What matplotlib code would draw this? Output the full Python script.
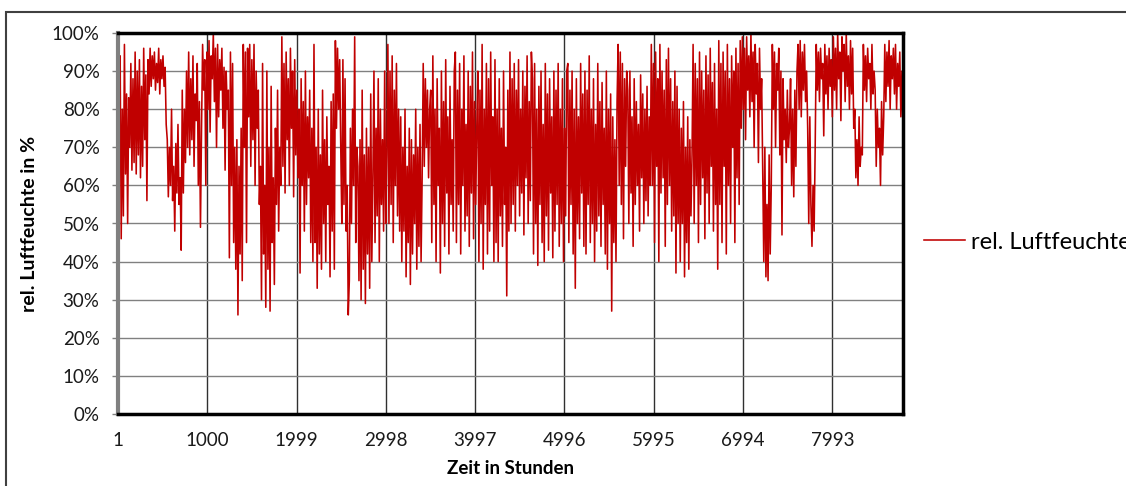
import matplotlib
matplotlib.use("Agg")
import matplotlib.pyplot as plt
import numpy as np
from matplotlib.patches import Rectangle
from matplotlib.ticker import PercentFormatter

plt.rcParams['font.family'] = ['Lato', 'DejaVu Sans']

# relative humidity in %, sampled roughly every 12 hours over the year
rh_part1 = [95, 88, 94, 46,
            80, 52, 97, 63, 84, 50, 83,
            70, 92, 64, 88, 66, 95, 63, 90, 68, 93, 62, 86, 65, 96, 72, 89, 56,
            93, 84, 96, 86, 94, 88, 95,
            85, 92, 87, 96, 84, 93, 88, 94, 86, 91, 76,
            72, 57, 70, 60, 80, 56, 65, 48, 71, 58, 76, 55, 62, 43,
            85, 58, 80, 66, 90, 70, 95, 68, 88, 72, 94, 65, 84, 77, 92, 60, 82, 49, 75,
            97, 85, 93, 60, 95, 80, 98, 74, 94, 88, 100, 82, 96, 70, 97, 78, 93, 85, 96,
            75, 91, 64, 90, 80, 85, 41]
rh_part2 = [95, 60, 92, 45,
            70, 38, 72, 26, 65, 42, 75, 35,
            97, 70, 95, 45, 96, 78, 97, 65, 93, 72, 97, 60, 90, 75, 85, 55,
            65, 30, 92, 42, 60, 28, 90, 38, 70, 27, 86, 45,
            62, 34, 75, 55, 85, 48, 70, 60,
            99, 65, 92, 58, 95, 72, 88, 60, 96, 75, 90, 57, 93, 68, 85, 62, 80, 37,
            88, 60, 82, 48, 90, 55, 78, 62, 85, 45,
            75, 40, 97, 45, 70, 33, 80, 42, 68, 38, 85, 50, 72, 40, 78, 55, 65, 36, 82, 48, 84, 38,
            98, 75, 96, 80, 93, 70, 50,
            93, 55, 88, 48, 60, 26, 35,
            75, 50, 80, 60, 99, 45, 70,
            65, 35, 72, 30, 85, 38, 68, 29, 75, 42, 70, 33, 84, 40, 62,
            90, 45, 75, 52, 88, 40, 80, 55, 72, 48, 90, 50, 68]
rh_part3 = [97, 50, 90, 55, 94, 45, 85, 60, 92, 52, 80, 48,
            78, 40, 70, 48, 80, 36, 65, 45, 75, 34, 72, 42, 68, 50, 80, 38, 70, 44, 76, 40, 62,
            92, 65, 88, 70, 85, 62, 80,
            85, 45, 94, 55, 80, 40, 88, 60, 75, 37, 90, 50, 82, 44, 93, 58, 78, 42, 86, 55, 72, 48, 90,
            95, 45, 85, 55, 92, 42, 80, 60, 94, 48, 76, 52, 90, 44, 86, 58, 95, 46, 82, 55, 75,
            90, 40, 85, 50, 97, 38, 80, 55, 92, 42, 88, 48, 95, 60, 78, 40,
            93, 45, 80, 40, 88, 52, 75, 44, 90, 55, 70, 31, 85, 48,
            95, 50, 88, 55, 92, 48, 85, 60, 93, 52, 80, 58, 90, 47, 86, 62, 94, 50, 82, 56, 95,
            88, 42, 92, 50, 80, 39, 86, 55, 90, 45, 76, 40, 92, 52, 84, 43, 88, 58, 78, 41, 90,
            48, 85, 55, 92, 44, 80, 50, 88, 40, 75, 52, 90,
            92, 45, 85, 55, 90, 42, 80, 33, 88, 50, 78, 46, 92, 58, 84, 44,
            90, 42, 85, 55, 94, 45, 80, 50, 88, 40, 76, 48, 92, 52, 82, 44, 87, 55, 75, 42, 90,
            38, 80, 50, 84, 27, 78, 45, 72, 40, 82]
rh_part4 = [97, 60, 95, 55, 92, 46, 88, 65, 90,
            85, 50, 90, 58, 78, 44, 88, 55, 82, 60, 76, 48, 89, 62, 84, 50, 80, 56, 86, 52, 78, 60,
            97, 60, 92, 45, 95, 65, 88, 40, 97, 58, 90, 62, 85, 44, 93, 55, 96, 60, 88, 48, 82, 52,
            90, 37, 86, 50,
            80, 40, 75, 50, 82, 36, 70, 45, 78, 38, 72, 52, 68,
            97, 50, 92, 60, 88, 45, 95, 55, 90, 62, 85, 46, 94, 58, 89, 50, 96, 65, 87, 48, 92, 55,
            80, 38,
            98, 55, 92, 45, 95, 65, 90, 42, 97, 60, 88, 50, 94, 70, 90, 45, 96, 62, 92, 55, 98, 75,
            99, 80, 96, 72, 99, 85, 94, 78, 100, 82, 95, 70, 97, 84, 92, 66, 96, 80, 88,
            65, 40, 70, 36, 55, 35, 68, 42, 60,
            97, 80, 95, 70, 92, 85, 96, 68, 90, 47, 88, 72, 80, 66, 85, 70, 75,
            88, 60, 80, 57, 85, 65, 90,
            97, 80, 98, 78, 95, 85, 97, 82, 90,
            75, 50, 78, 55, 44, 60, 48, 70,
            97, 85, 95, 82, 96, 88, 92, 73, 97, 84, 94, 80, 96, 86, 93, 78,
            99, 85, 96, 80, 100, 88, 95, 77, 99, 90, 97, 82, 100, 86, 94, 80, 98, 84, 96, 75,
            80, 62, 72, 60, 78, 65, 70, 68,
            97, 85, 94, 82, 96, 88, 92, 80, 97, 84, 90,
            85, 65, 80, 70, 75, 60, 82, 68, 78,
            97, 82, 95, 86, 98, 80, 94, 88, 96, 84, 97, 80, 92, 86, 95, 78, 90, 75]

rh = np.array(rh_part1 + rh_part2 + rh_part3 + rh_part4, dtype=float)
hours = np.linspace(1, 8784, len(rh))
x_ticks = [1, 1000, 1999, 2998, 3997, 4996, 5995, 6994, 7993]

W, H = 1126, 486
fig = plt.figure(figsize=(W / 100, H / 100), dpi=100)
ax = fig.add_axes([118 / W, 1 - 414 / H, 785 / W, 381 / H])

ax.plot(hours, rh, color='#C00000', lw=1.15, label='rel. Luftfeuchte')

ax.set_xlim(1, 8784)
ax.set_ylim(0, 100)
ax.set_yticks(np.arange(0, 101, 10))
ax.yaxis.set_major_formatter(PercentFormatter(100, decimals=0))
ax.set_xticks(x_ticks)
ax.set_xticklabels([str(t) for t in x_ticks])

ax.grid(axis='y', color='#808080', lw=1.0)
ax.grid(axis='x', color='#303030', lw=1.0)
ax.set_axisbelow(True)

ax.tick_params(axis='y', direction='out', length=4.3, width=1, color='#808080',
               labelsize=13.5, pad=9, labelcolor='#1a1a1a')
ax.tick_params(axis='x', length=0, labelsize=13.5, pad=13, labelcolor='#1a1a1a')

for side in ['top', 'bottom', 'right']:
    ax.spines[side].set_linewidth(2.5)
    ax.spines[side].set_color('black')
ax.spines['left'].set_linewidth(3)
ax.spines['left'].set_color('#808080')

ax.set_xlabel('Zeit in Stunden', fontsize=13.5, fontweight='bold', labelpad=8)
ax.set_ylabel('rel. Luftfeuchte in %', fontsize=14, fontweight='bold', labelpad=10)

ax.legend(loc='center left', bbox_to_anchor=(924 / W, 1 - 242 / H),
          bbox_transform=fig.transFigure, frameon=False, fontsize=17,
          handlelength=1.75, handletextpad=0.25, borderpad=0, borderaxespad=0)

frame = Rectangle((6 / W, -0.1), 2, 1 - 12 / H + 0.1, transform=fig.transFigure,
                  fill=False, edgecolor='#404040', lw=1.5, clip_on=False)
fig.patches.append(frame)

fig.savefig('out.png', dpi=100)
